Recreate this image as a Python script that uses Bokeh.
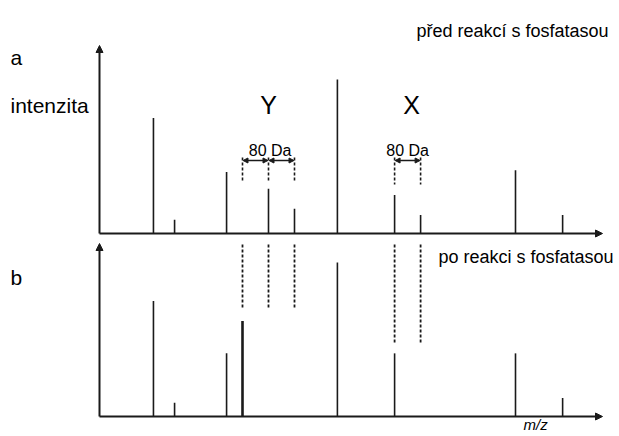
from bokeh.plotting import figure
from bokeh.models import Range1d, Arrow, NormalHead
from bokeh.core.properties import value
from bokeh.embed import file_html
from bokeh.resources import INLINE

# ---- data (m/z in Da, intensity in % of the tallest peak) ----
mz_before = [666, 731, 891, 1020, 1100, 1232, 1408, 1488, 1780, 1925]
int_before = [75, 9, 40, 29, 16, 100, 25, 12, 41, 12]
mz_after = [666, 731, 891, 940, 1232, 1408, 1780, 1925]
int_after = [75, 9, 41, 62, 100, 41, 41, 12]
width_after = [1.6, 1.6, 1.6, 2.6, 1.6, 1.6, 1.6, 1.6]
group_Y = [940, 1020, 1100]
group_X = [1408, 1488]
label_before = "před reakcí s fosfatasou"
label_after = "po reakci s fosfatasou"

# ---- geometry helpers (picture pixel -> data) ----
PXDA = 0.325          # pixels per Da
PXI = 1.54            # pixels per intensity unit
BASE_A, BASE_B = 233, 416


def mx(xp):
    return 220 + (xp - 8) / PXDA


def ya(yp):
    return (BASE_A - yp) / PXI


def yb(yp):
    return (BASE_B - yp) / PXI


W, H = 619, 436
p = figure(width=W, height=H, output_backend="svg", toolbar_location=None,
           x_range=Range1d(mx(0), mx(W)), y_range=Range1d(ya(H), ya(0)),
           min_border=0, min_border_left=0, min_border_right=0,
           min_border_top=0, min_border_bottom=0)
p.extra_y_ranges = {"b": Range1d(yb(H), yb(0))}
p.xaxis.visible = False
p.yaxis.visible = False
p.grid.visible = False
p.outline_line_color = None
p.background_fill_color = "white"
p.border_fill_color = "white"

INK = "#1a1a1a"
x_start, x_end = mx(99), mx(602)

# ---- axes with arrows ----
def head():
    return NormalHead(size=7, fill_color=INK, line_color=INK, line_width=1)

p.add_layout(Arrow(end=head(), x_start=x_start, y_start=0, x_end=x_start, y_end=ya(45),
                   line_color=INK, line_width=2))
p.add_layout(Arrow(end=head(), x_start=x_start, y_start=0, x_end=x_end, y_end=0,
                   line_color=INK, line_width=2))
p.add_layout(Arrow(end=head(), x_start=x_start, y_start=0, x_end=x_start, y_end=yb(243),
                   line_color=INK, line_width=2, y_range_name="b"))
p.add_layout(Arrow(end=head(), x_start=x_start, y_start=0, x_end=x_end, y_end=0,
                   line_color=INK, line_width=2, y_range_name="b"))

# ---- peaks ----
p.segment(x0=mz_before, y0=[0] * len(mz_before), x1=mz_before, y1=int_before,
          line_color=INK, line_width=1.6)
p.segment(x0=mz_after, y0=[0] * len(mz_after), x1=mz_after, y1=int_after,
          line_color=INK, line_width=width_after, y_range_name="b")

# ---- dashed guide lines ----
p.segment(x0=group_Y, y0=[ya(157)] * 3, x1=group_Y, y1=[ya(180)] * 3,
          line_color=INK, line_width=1.6, line_dash="3 2")
p.segment(x0=group_X, y0=[ya(157)] * 2, x1=group_X, y1=[ya(184)] * 2,
          line_color=INK, line_width=1.6, line_dash="3 2")
p.segment(x0=group_Y, y0=[yb(244)] * 3, x1=group_Y, y1=[yb(309)] * 3,
          line_color=INK, line_width=1.8, line_dash="3 2", y_range_name="b")
p.segment(x0=group_X, y0=[yb(244)] * 2, x1=group_X, y1=[yb(344)] * 2,
          line_color=INK, line_width=1.8, line_dash="3 2", y_range_name="b")

# ---- 80 Da double arrows ----
def small():
    return NormalHead(size=5, fill_color=INK, line_color=INK, line_width=1)

for a, b in [(group_Y[0], group_Y[1]), (group_Y[1], group_Y[2]), (group_X[0], group_X[1])]:
    p.add_layout(Arrow(start=small(), end=small(), x_start=a + 1.5, y_start=ya(160),
                       x_end=b - 1.5, y_end=ya(160), line_color=INK, line_width=1.5))

# ---- texts ----
FONT = value("Liberation Sans")


def txt(x, y, s, size, align="left", rng="default", style="normal", baseline="alphabetic"):
    kw = {} if rng == "default" else {"y_range_name": rng}
    p.text(x=[x], y=[y], text=[s], text_font=FONT, text_font_size=value(size),
           text_align=align, text_baseline=baseline, text_color="black",
           text_font_style=style, **kw)

txt(mx(10), ya(57), "a", "21px")
txt(mx(10), ya(105), "intenzita", "21px")
txt(mz_before[3], ya(104), "Y", "25px", align="center")
txt((group_X[0] + group_X[1]) / 2 + 12, ya(104), "X", "25px", align="center")
txt((group_Y[0] + group_Y[2]) / 2 + 5, ya(150), "80 Da", "16px", align="center")
txt((group_X[0] + group_X[1]) / 2, ya(150), "80 Da", "16px", align="center")
txt(mx(416), ya(30), label_before, "18px")
txt(mx(438), yb(256), label_after, "18px", rng="b")
txt(mx(10), yb(277), "b", "21px", rng="b")
txt(mx(523), yb(432), "m/z", "15px", rng="b", style="italic", baseline="bottom")

open("out.html", "w").write(file_html(p, INLINE))
